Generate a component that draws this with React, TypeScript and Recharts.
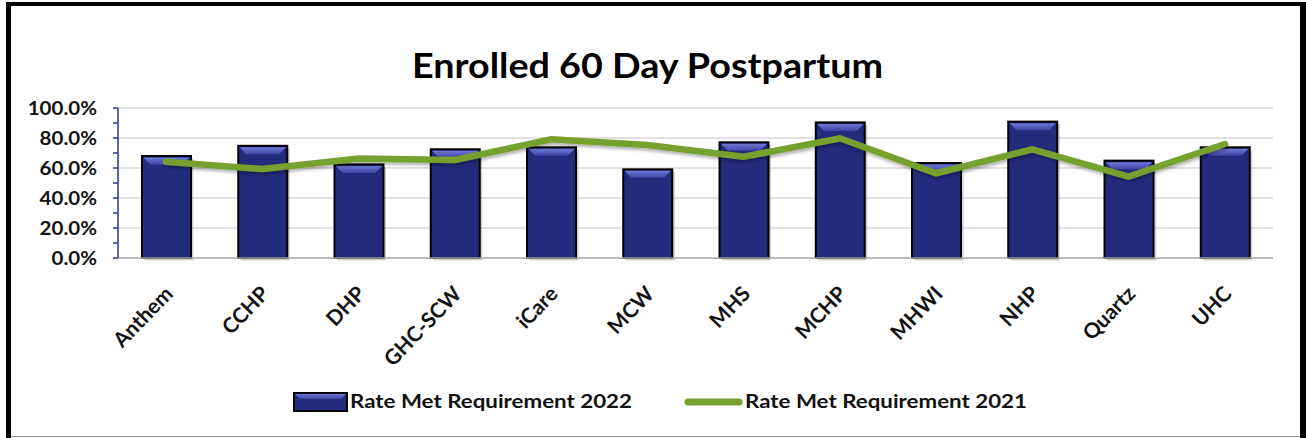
import React from 'react';
import { ComposedChart, Bar, Line, XAxis, YAxis, CartesianGrid, Legend } from 'recharts';

const categories = ['Anthem', 'CCHP', 'DHP', 'GHC-SCW', 'iCare', 'MCW', 'MHS', 'MCHP', 'MHWI', 'NHP', 'Quartz', 'UHC'];
const rate2022 = [68.0, 74.8, 62.4, 72.5, 73.8, 59.1, 77.1, 90.4, 63.3, 90.9, 64.9, 73.8];
const rate2021 = [64.2, 59.3, 66.4, 65.3, 79.1, 75.3, 67.5, 79.8, 56.5, 72.4, 54.2, 76.0];
const seriesNames = ['Rate Met Requirement 2022', 'Rate Met Requirement 2021'];
const yTicks = [0, 10, 20, 30, 40, 50, 60, 70, 80, 90, 100];
const yLabelTicks = [0, 20, 40, 60, 80, 100];
const titleText = 'Enrolled 60 Day Postpartum';

const data = categories.map((name, i) => ({ name, r2022: rate2022[i], r2021: rate2021[i] }));

const FONT = 'Lato, "Open Sans", sans-serif';
const NAVY = '#232B7C';
const GREEN = '#77A12F';

const BevelBar = (props: any) => {
  const { x, y, width, height } = props;
  if (height == null || height <= 0) return null;
  const b = Math.min(7, height / 2);
  return (
    <g>
      <rect x={x + 2.5} y={y + 2.5} width={width} height={height} fill="rgba(0,0,0,0.18)" />
      <rect x={x} y={y} width={width} height={height} fill={NAVY} stroke="#000" strokeWidth={2} />
      <polygon
        points={`${x + 1.5},${y + 1.5} ${x + width - 1.5},${y + 1.5} ${x + width - 8},${y + b + 1.5} ${x + 8},${y + b + 1.5}`}
        fill="url(#bevelGrad)"
      />
    </g>
  );
};

const YTick = (props: any) => {
  const { x, y, payload } = props;
  if (!yLabelTicks.includes(payload.value)) return null;
  return (
    <text
      transform={`translate(${x},${y + 7}) scale(1.14,1)`}
      textAnchor="end"
      fontFamily={FONT}
      fontWeight={700}
      fontSize={18}
      fill="#111"
    >
      {`${Number(payload.value).toFixed(1)}%`}
    </text>
  );
};

const XTick = (props: any) => {
  const { x, y, payload } = props;
  return (
    <text
      transform={`translate(${x + 8},${y + 37}) rotate(-46)`}
      textAnchor="end"
      fontFamily={FONT}
      fontWeight={700}
      fontSize={21}
      fill="#111"
    >
      {payload.value}
    </text>
  );
};

const LegendContent = (props: any) => {
  const items: any[] = props.payload || [];
  const barItem = items.find((p) => p.dataKey === 'r2022');
  const lineItem = items.find((p) => p.dataKey === 'r2021');
  const barName = (barItem && barItem.value) || seriesNames[0];
  const lineName = (lineItem && lineItem.value) || seriesNames[1];
  return (
    <svg width={1306} height={24} style={{ display: 'block' }}>
      <rect x={294} y={3} width={53} height={18} fill={NAVY} stroke="#000" strokeWidth={2} />
      <polygon points="295,4 346,4 341,9 300,9" fill="url(#bevelGrad)" />
      <text x={350} y={18} textLength={282} lengthAdjust="spacingAndGlyphs" fontFamily={FONT} fontWeight={700} fontSize={19} fill="#111">
        {barName}
      </text>
      <line x1={688} y1={12} x2={739} y2={12} stroke={GREEN} strokeWidth={7} strokeLinecap="round" />
      <text x={745} y={18} textLength={282} lengthAdjust="spacingAndGlyphs" fontFamily={FONT} fontWeight={700} fontSize={19} fill="#111">
        {lineName}
      </text>
    </svg>
  );
};

export default function App() {
  return (
    <div style={{ position: 'absolute', left: 0, top: 0, width: 1306, height: 438, background: '#fff', overflow: 'hidden' }}>
      <ComposedChart width={1306} height={438} data={data} margin={{ top: 108, right: 33, bottom: 24, left: 10 }} barSize={49}>
        <defs>
          <linearGradient id="bevelGrad" x1="0" y1="0" x2="0" y2="1">
            <stop offset="0%" stopColor="#7078D6" />
            <stop offset="100%" stopColor="#3C45A6" />
          </linearGradient>
          <filter id="lineShadow" x="-5%" y="-50%" width="110%" height="200%">
            <feDropShadow dx="1" dy="2.5" stdDeviation="1.5" floodColor="#000" floodOpacity="0.3" />
          </filter>
        </defs>
        <CartesianGrid vertical={false} horizontalValues={[20, 40, 60, 80, 100]} stroke="#D9D9D9" strokeWidth={1.5} />
        <XAxis
          dataKey="name"
          interval={0}
          height={132}
          tickLine={false}
          tickSize={0}
          tickMargin={0}
          axisLine={{ stroke: '#A6A6A6', strokeWidth: 1.5 }}
          tick={<XTick />}
        />
        <YAxis
          domain={[0, 100]}
          ticks={yTicks}
          interval={0}
          width={108}
          tickSize={5}
          tickMargin={16}
          axisLine={{ stroke: '#2E3A8C', strokeWidth: 1.5 }}
          tickLine={{ stroke: '#2E3A8C', strokeWidth: 1.5 }}
          tick={<YTick />}
        />
        <Bar dataKey="r2022" name={seriesNames[0]} shape={<BevelBar />} isAnimationActive={false} />
        <Line
          dataKey="r2021"
          name={seriesNames[1]}
          stroke={GREEN}
          strokeWidth={6.5}
          strokeLinecap="round"
          dot={false}
          activeDot={false}
          style={{ filter: 'url(#lineShadow)' }}
          isAnimationActive={false}
        />
        <Legend verticalAlign="bottom" height={24} content={<LegendContent />} wrapperStyle={{ left: 0, width: 1306, bottom: 24 }} />
      </ComposedChart>
      <svg width={1306} height={438} style={{ position: 'absolute', left: 0, top: 0, pointerEvents: 'none' }}>
        <text x={647.5} y={78} textAnchor="middle" textLength={471} lengthAdjust="spacingAndGlyphs" fontFamily={FONT} fontWeight={700} fontSize={35} fill="#000">
          {titleText}
        </text>
        <rect x={6} y={436} width={1296} height={1} fill="#9A9A9A" />
        <rect x={6} y={2} width={1300} height={4} fill="#000" />
        <rect x={6} y={2} width={5} height={436} fill="#000" />
        <rect x={1300} y={2} width={6} height={436} fill="#000" />
      </svg>
    </div>
  );
}
